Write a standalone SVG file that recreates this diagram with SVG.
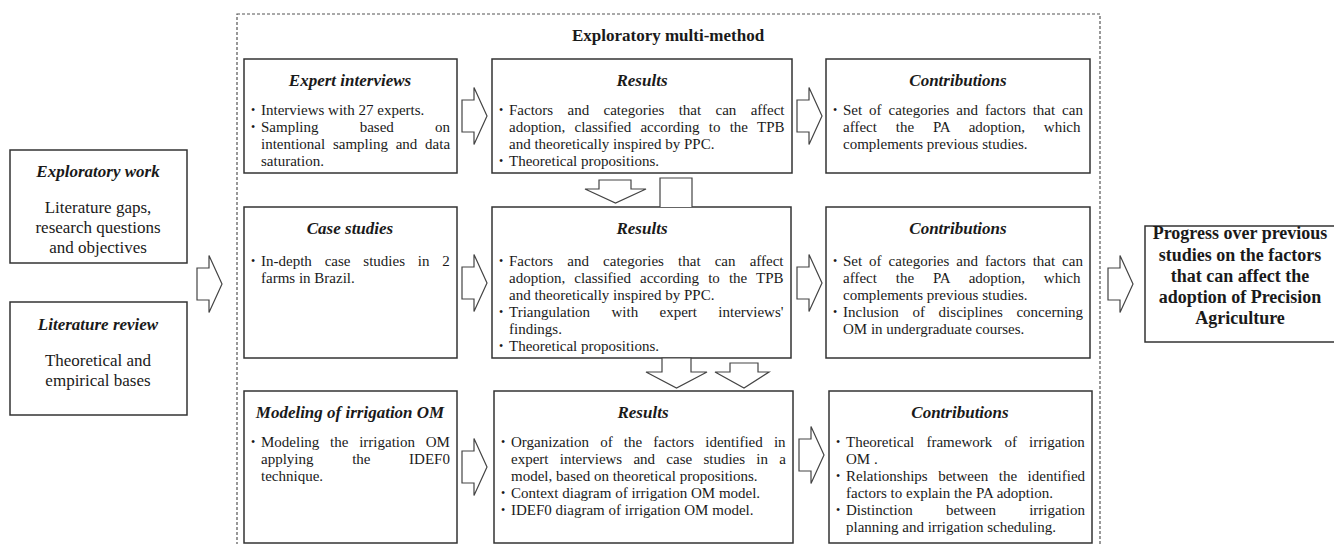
<svg xmlns="http://www.w3.org/2000/svg" width="1334" height="544" viewBox="0 0 1334 544">
<style>
.box{fill:#fff;stroke:#333;stroke-width:1.5}
.dash{fill:none;stroke:#555;stroke-width:1.2;stroke-dasharray:3 2}
.arr{fill:#fff;stroke:#444;stroke-width:1.2}
text{font-family:"Liberation Serif","Times New Roman",serif;fill:#1a1a1a}
.t{font-size:15px}
.h{font-size:17px;font-weight:bold;font-style:italic;text-anchor:middle}
.b{font-size:12px}
.c{font-size:17px;text-anchor:middle}
.p{font-size:18px;font-weight:bold;text-anchor:middle}
.m{font-size:17px;font-weight:bold;text-anchor:middle}
</style>
<rect width="1334" height="544" fill="#fff"/>
<g id="multi-method">
<rect class="dash" x="237" y="14" width="863" height="560"/>
<text class="m" x="668" y="41">Exploratory multi-method</text>
</g>
<g id="exploratory-work">
<rect class="box" x="10" y="150" width="177" height="113"/>
<text class="h" x="98" y="177">Exploratory work</text>
<text class="c" x="98" y="213">Literature gaps,</text>
<text class="c" x="98" y="233">research questions</text>
<text class="c" x="98" y="253">and objectives</text>
</g>
<g id="literature-review">
<rect class="box" x="10" y="302" width="177" height="113"/>
<text class="h" x="98" y="330">Literature review</text>
<text class="c" x="98" y="366">Theoretical and</text>
<text class="c" x="98" y="386">empirical bases</text>
</g>
<g id="expert-interviews">
<rect class="box" x="244" y="59" width="213" height="114"/>
<text class="h" x="350" y="86">Expert interviews</text>
<text class="b" x="251" y="114">•</text>
<text class="t" x="261" y="115">Interviews with 27 experts.</text>
<text class="b" x="251" y="131">•</text>
<text class="t" x="261" y="132" word-spacing="37.4">Sampling based on</text>
<text class="t" x="261" y="149" word-spacing="4">intentional sampling and data</text>
<text class="t" x="261" y="166">saturation.</text>
</g>
<g id="results-1">
<rect class="box" x="492" y="59" width="300" height="114"/>
<text class="h" x="642" y="86">Results</text>
<text class="b" x="499" y="114">•</text>
<text class="t" x="509" y="115" word-spacing="10.6">Factors and categories that can affect</text>
<text class="t" x="509" y="132" word-spacing="5.5">adoption, classified according to the TPB</text>
<text class="t" x="509" y="149">and theoretically inspired by PPC.</text>
<text class="b" x="499" y="165">•</text>
<text class="t" x="509" y="166">Theoretical propositions.</text>
</g>
<g id="contributions-1">
<rect class="box" x="826" y="59" width="264" height="114"/>
<text class="h" x="958" y="86">Contributions</text>
<text class="b" x="833" y="114">•</text>
<text class="t" x="843" y="115" word-spacing="3.2">Set of categories and factors that can</text>
<text class="t" x="843" y="132" word-spacing="15.1">affect the PA adoption, which</text>
<text class="t" x="843" y="149">complements previous studies.</text>
</g>
<g id="case-studies">
<rect class="box" x="244" y="207" width="213" height="151"/>
<text class="h" x="350" y="234">Case studies</text>
<text class="b" x="251" y="265">•</text>
<text class="t" x="261" y="266" word-spacing="9.1">In-depth case studies in 2</text>
<text class="t" x="261" y="283">farms in Brazil.</text>
</g>
<g id="results-2">
<rect class="box" x="492" y="207" width="299" height="151"/>
<text class="h" x="642" y="234">Results</text>
<text class="b" x="499" y="265">•</text>
<text class="t" x="509" y="266" word-spacing="10.4">Factors and categories that can affect</text>
<text class="t" x="509" y="283" word-spacing="5.3">adoption, classified according to the TPB</text>
<text class="t" x="509" y="300">and theoretically inspired by PPC.</text>
<text class="b" x="499" y="316">•</text>
<text class="t" x="509" y="317" word-spacing="17.6">Triangulation with expert interviews'</text>
<text class="t" x="509" y="334">findings.</text>
<text class="b" x="499" y="350">•</text>
<text class="t" x="509" y="351">Theoretical propositions.</text>
</g>
<g id="contributions-2">
<rect class="box" x="826" y="207" width="264" height="151"/>
<text class="h" x="958" y="234">Contributions</text>
<text class="b" x="833" y="265">•</text>
<text class="t" x="843" y="266" word-spacing="3.2">Set of categories and factors that can</text>
<text class="t" x="843" y="283" word-spacing="15.1">affect the PA adoption, which</text>
<text class="t" x="843" y="300">complements previous studies.</text>
<text class="b" x="833" y="316">•</text>
<text class="t" x="843" y="317" word-spacing="9.9">Inclusion of disciplines concerning</text>
<text class="t" x="843" y="334">OM in undergraduate courses.</text>
</g>
<g id="modeling">
<rect class="box" x="244" y="391" width="213" height="152"/>
<text class="h" x="350" y="418">Modeling of irrigation OM</text>
<text class="b" x="251" y="446">•</text>
<text class="t" x="261" y="447" word-spacing="7">Modeling the irrigation OM</text>
<text class="t" x="261" y="464" word-spacing="34.9">applying the IDEF0</text>
<text class="t" x="261" y="481">technique.</text>
</g>
<g id="results-3">
<rect class="box" x="494" y="391" width="299" height="152"/>
<text class="h" x="643" y="418">Results</text>
<text class="b" x="501" y="446">•</text>
<text class="t" x="511" y="447" word-spacing="7.4">Organization of the factors identified in</text>
<text class="t" x="511" y="464" word-spacing="7.5">expert interviews and case studies in a</text>
<text class="t" x="511" y="481">model, based on theoretical propositions.</text>
<text class="b" x="501" y="497">•</text>
<text class="t" x="511" y="498">Context diagram of irrigation OM model.</text>
<text class="b" x="501" y="514">•</text>
<text class="t" x="511" y="515">IDEF0 diagram of irrigation OM model.</text>
</g>
<g id="contributions-3">
<rect class="box" x="829" y="391" width="263" height="152"/>
<text class="h" x="960" y="418">Contributions</text>
<text class="b" x="836" y="446">•</text>
<text class="t" x="846" y="447" word-spacing="8.4">Theoretical framework of irrigation</text>
<text class="t" x="846" y="464">OM .</text>
<text class="b" x="836" y="480">•</text>
<text class="t" x="846" y="481" word-spacing="6.8">Relationships between the identified</text>
<text class="t" x="846" y="498">factors to explain the PA adoption.</text>
<text class="b" x="836" y="514">•</text>
<text class="t" x="846" y="515" word-spacing="29.5">Distinction between irrigation</text>
<text class="t" x="846" y="532">planning and irrigation scheduling.</text>
</g>
<g id="progress">
<rect class="box" x="1145" y="226" width="195" height="116"/>
<text class="p" x="1240" y="239">Progress over previous</text>
<text class="p" x="1240" y="261">studies on the factors</text>
<text class="p" x="1240" y="282">that can affect the</text>
<text class="p" x="1240" y="303">adoption of Precision</text>
<text class="p" x="1240" y="324">Agriculture</text>
</g>
<g id="connectors">
<polygon class="arr" points="197,268 209,268 209,255.5 222,284 209,312.5 209,300 197,300"/>
<polygon class="arr" points="462,100 474,100 474,87.5 487,116 474,144.5 474,132 462,132"/>
<polygon class="arr" points="797,100 809,100 809,87.5 822,116 809,144.5 809,132 797,132"/>
<polygon class="arr" points="462,267 474,267 474,254.5 487,283 474,311.5 474,299 462,299"/>
<polygon class="arr" points="797,267 809,267 809,254.5 822,283 809,311.5 809,299 797,299"/>
<polygon class="arr" points="462,451 474,451 474,438.5 487,467 474,495.5 474,483 462,483"/>
<polygon class="arr" points="799,439 811,439 811,426.5 824,455 811,483.5 811,471 799,471"/>
<polygon class="arr" points="1108,268 1120,268 1120,255.5 1133,284 1120,312.5 1120,300 1108,300"/>
<polygon class="arr" points="599,180 631,180 631,189 646,189 615.5,203 585,189 599,189"/>
<path class="arr" d="M660,207 V178 H692 V207"/>
<polygon class="arr" points="662,358 691,358 691,372 707,372 676.5,388 646,372 662,372"/>
<polygon class="arr" points="730,363 758,363 758,372 769,372 744,388 715,372 730,372"/>
</g>
</svg>
